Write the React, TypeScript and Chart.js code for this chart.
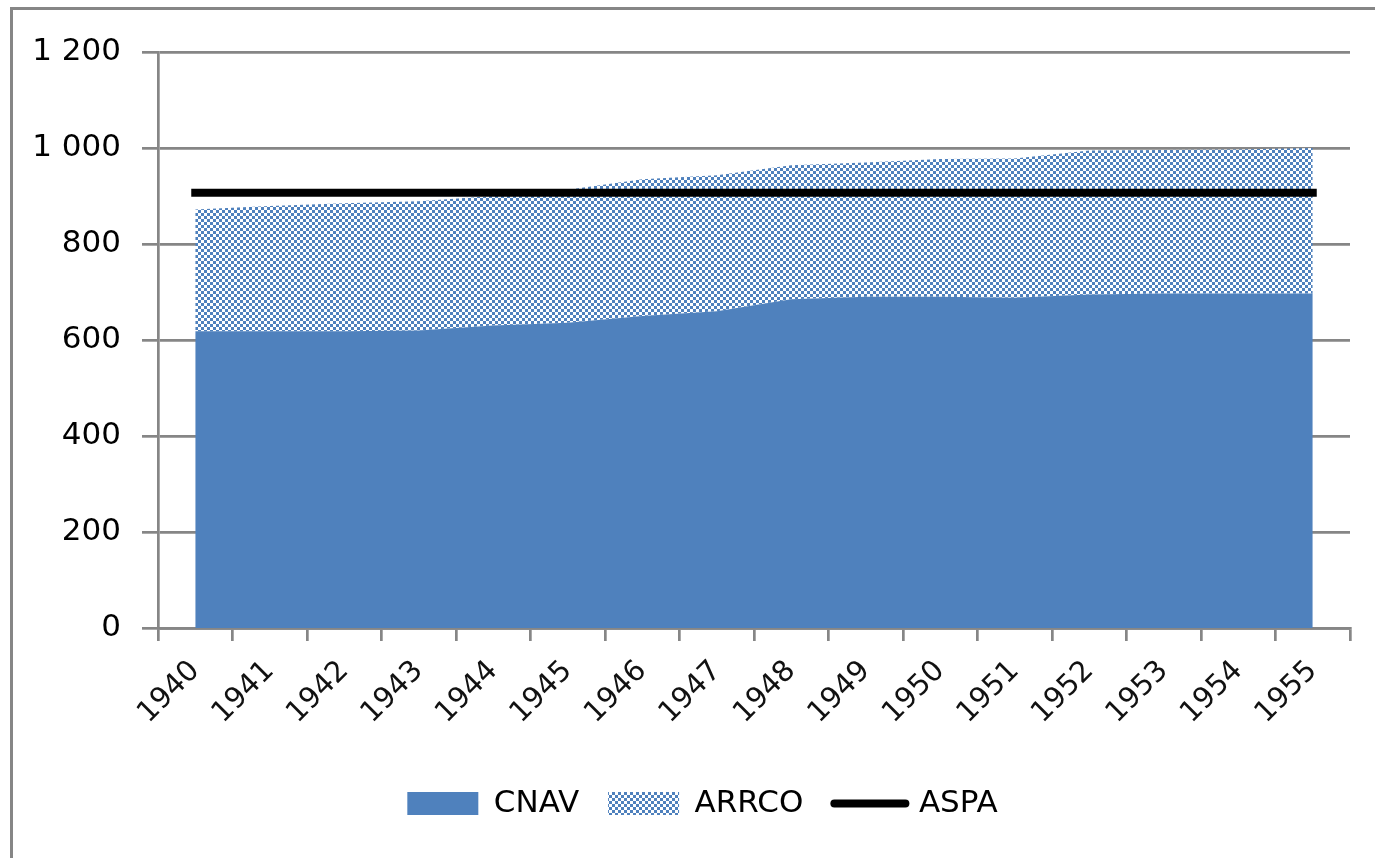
import React, { useEffect, useRef } from "react";
import { Chart, registerables } from "chart.js";

Chart.register(...registerables);

// ---- Data ----
const years = ["1940", "1941", "1942", "1943", "1944", "1945", "1946", "1947", "1948", "1949", "1950", "1951", "1952", "1953", "1954", "1955"];
const cnav = [618, 618, 618, 620, 630, 636, 650, 660, 685, 690, 690, 688, 695, 697, 697, 697];
const arrco = [254, 261, 267, 269, 270, 277, 285, 283, 279, 280, 287, 290, 300, 299, 300, 303];
const aspa = [907, 907, 907, 907, 907, 907, 907, 907, 907, 907, 907, 907, 907, 907, 907, 907];
const yTickValues = [0, 200, 400, 600, 800, 1000, 1200];
const yTickLabels = ["0", "200", "400", "600", "800", "1 000", "1 200"];
const seriesNames = ["CNAV", "ARRCO", "ASPA"];

const BLUE = "#4F81BD";
const GRID = "#868686";
const FONT = "'DejaVu Sans', sans-serif";

function makeCheckPattern(ctx: CanvasRenderingContext2D, color: string, cell: number) {
  const c = document.createElement("canvas");
  c.width = cell * 2;
  c.height = cell * 2;
  const g = c.getContext("2d")!;
  g.fillStyle = "#ffffff";
  g.fillRect(0, 0, cell * 2, cell * 2);
  g.fillStyle = color;
  g.fillRect(0, 0, cell, cell);
  g.fillRect(cell, cell, cell, cell);
  return ctx.createPattern(c, "repeat")!;
}

const framePlugin = {
  id: "frame",
  beforeDraw(chart: any) {
    const ctx = chart.ctx;
    ctx.save();
    ctx.fillStyle = "#ffffff";
    ctx.fillRect(0, 0, chart.width, chart.height);
    ctx.strokeStyle = GRID;
    ctx.lineWidth = 3;
    ctx.beginPath();
    ctx.moveTo(11.5, chart.height);
    ctx.lineTo(11.5, 8.5);
    ctx.lineTo(chart.width, 8.5);
    ctx.stroke();
    ctx.restore();
  },
  afterDraw(chart: any) {
    const hb = chart.legend && chart.legend.legendHitBoxes && chart.legend.legendHitBoxes[2];
    if (!hb) return;
    const ctx = chart.ctx;
    const bw = chart.options.plugins.legend.labels.boxWidth;
    const y = hb.top + hb.height / 2;
    ctx.save();
    ctx.strokeStyle = "#000000";
    ctx.lineWidth = 8;
    ctx.lineCap = "round";
    ctx.beginPath();
    ctx.moveTo(hb.left + 2, y);
    ctx.lineTo(hb.left + bw + 2, y);
    ctx.stroke();
    ctx.restore();
  },
};

export default function App() {
  const ref = useRef<HTMLCanvasElement | null>(null);

  useEffect(() => {
    const canvas = ref.current!;
    const ctx = canvas.getContext("2d")!;
    const pattern = makeCheckPattern(ctx, BLUE, 3);

    const chart = new Chart(canvas, {
      type: "line",
      data: {
        labels: years,
        datasets: [
          {
            label: seriesNames[0],
            data: cnav,
            backgroundColor: BLUE,
            borderColor: BLUE,
            borderWidth: 0,
            pointRadius: 0,
            fill: "origin",
            stack: "pensions",
            tension: 0,
            order: 1,
          },
          {
            label: seriesNames[1],
            data: arrco,
            backgroundColor: pattern as any,
            borderColor: "rgba(0,0,0,0)",
            borderWidth: 0,
            pointRadius: 0,
            fill: "-1",
            stack: "pensions",
            tension: 0,
            order: 1,
          },
          {
            label: seriesNames[2],
            data: aspa,
            borderColor: "#000000",
            backgroundColor: "#000000",
            borderWidth: 8,
            borderCapStyle: "square",
            pointRadius: 0,
            fill: false,
            stack: "aspa",
            tension: 0,
            order: 0,
          },
        ],
      },
      options: {
        responsive: false,
        animation: false,
        events: [],
        layout: { padding: { left: 30, right: 0, top: 52, bottom: 29 } },
        plugins: {
          tooltip: { enabled: false },
          legend: {
            position: "bottom",
            align: "center",
            labels: {
              boxWidth: 71,
              boxHeight: 23,
              padding: 29,
              color: "#000000",
              font: { family: FONT, size: 31 },
              generateLabels: () => [
                { text: seriesNames[0], fillStyle: BLUE, strokeStyle: BLUE, lineWidth: 0, hidden: false, datasetIndex: 0 },
                { text: seriesNames[1], fillStyle: pattern as any, strokeStyle: "rgba(0,0,0,0)", lineWidth: 0, hidden: false, datasetIndex: 1 },
                { text: seriesNames[2], fillStyle: "rgba(0,0,0,0)", strokeStyle: "rgba(0,0,0,0)", lineWidth: 0, hidden: false, datasetIndex: 2 },
              ],
            },
          },
        },
        scales: {
          x: {
            type: "category",
            offset: true,
            afterFit: (s: any) => {
              s.height = 131;
            },
            grid: {
              offset: true,
              drawOnChartArea: false,
              drawTicks: true,
              tickLength: 13,
              color: GRID,
              lineWidth: 2.7,
            },
            border: { display: true, color: GRID, width: 2.7 },
            ticks: {
              autoSkip: false,
              maxRotation: 45,
              minRotation: 45,
              padding: 13,
              color: "#111111",
              font: { family: FONT, size: 29 },
            },
          },
          y: {
            stacked: true,
            min: 0,
            max: 1200,
            afterFit: (s: any) => {
              s.width = 128;
            },
            afterBuildTicks: (s: any) => {
              s.ticks = yTickValues.map((v) => ({ value: v }));
            },
            grid: {
              color: GRID,
              lineWidth: 2.7,
              drawTicks: true,
              tickLength: 16,
            },
            border: { display: true, color: GRID, width: 2.7 },
            ticks: {
              padding: 21,
              color: "#000000",
              font: { family: FONT, size: 31 },
              callback: (v: any) => {
                const i = yTickValues.indexOf(Number(v));
                return i >= 0 ? yTickLabels[i] : String(v);
              },
            },
          },
          y2: {
            type: "linear",
            position: "right",
            display: true,
            min: 0,
            max: 1200,
            afterFit: (s: any) => {
              s.width = 25;
            },
            grid: { drawOnChartArea: false, drawTicks: false },
            border: { display: false },
            ticks: { display: false },
          },
        },
      },
      plugins: [framePlugin],
    });

    return () => chart.destroy();
  }, []);

  return (
    <div style={{ position: "absolute", left: 0, top: 0, width: 1375, height: 858 }}>
      <canvas ref={ref} width={1375} height={858} style={{ display: "block", width: 1375, height: 858 }} />
    </div>
  );
}
